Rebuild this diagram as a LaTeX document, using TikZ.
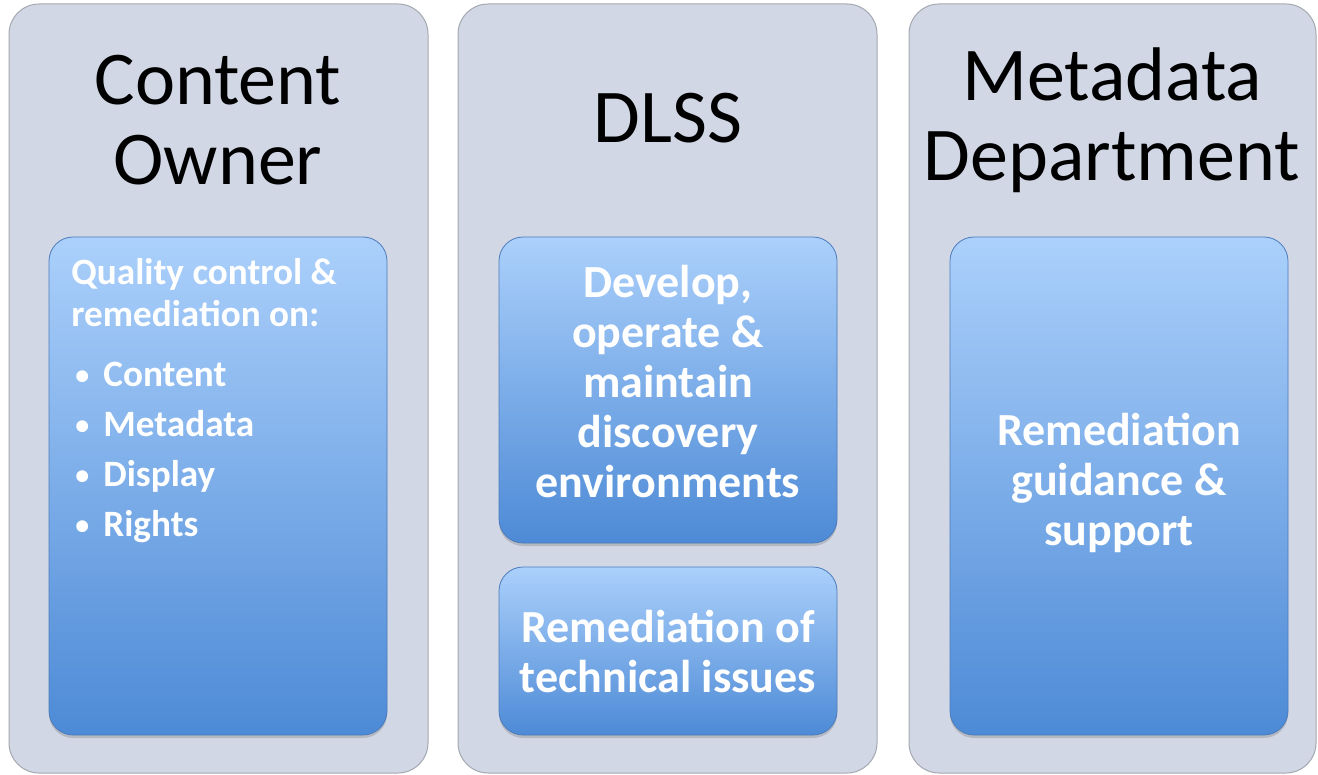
\documentclass[tikz,border=0pt]{standalone}
\usepackage{fontspec}
\setmainfont{Carlito}
\usetikzlibrary{shadows}
\definecolor{panelgrey}{HTML}{D1D7E5}
\definecolor{panelline}{HTML}{A4A8B0}
\definecolor{boxtop}{HTML}{ABD0FB}
\definecolor{boxbottom}{HTML}{4D8AD6}
\definecolor{boxline}{HTML}{4C7CBD}
\tikzset{
  panel/.style={fill=panelgrey, draw=panelline, line width=0.5pt, rounded corners=15pt},
  bluebox/.style={top color=boxtop, bottom color=boxbottom, draw=boxline, line width=0.4pt,
    rounded corners=12pt, drop shadow={shadow xshift=0pt, shadow yshift=-1.5pt, opacity=0.35}},
  titletext/.style={font=\fontsize{38}{40}\selectfont, align=center, text=black},
  boxtext/.style={font=\bfseries\fontsize{23}{25}\selectfont, align=center, text=white},
  listtext/.style={font=\bfseries\fontsize{18.6}{21}\selectfont, align=left, text=white,
    anchor=north west, inner sep=0pt},
}
\newcommand{\listbullet}[1]{\hspace*{2pt}\makebox[14pt][l]{\raisebox{1pt}{\scalebox{0.75}{\textbullet}}}#1}

\begin{document}
\begin{tikzpicture}[x=0.5pt, y=-0.5pt]
\useasboundingbox (0,0) rectangle (1318,775);
% grey panels
\path[panel] (9,4) rectangle (428,773);
\path[panel] (458,4) rectangle (877,773);
\path[panel] (909,4) rectangle (1316,773);
% blue boxes
\path[bluebox] (49,237) rectangle (387,735);
\path[bluebox] (499,237) rectangle (837,543);
\path[bluebox] (499,567) rectangle (837,735);
\path[bluebox] (950,237) rectangle (1288,735);
% titles
\node[titletext] (owner) at (218,120) {Content\\Owner};
\node[titletext, anchor=base] (dlss) at (668,143) {DLSS};
\node[titletext] (metadept) at (1112,120) {Metadata\\Department};
% box texts
\node[listtext] (qclist) at (71,258) {Quality control \&\\remediation on:\\[9pt]
  \listbullet{Content}\\[4pt]
  \listbullet{Metadata}\\[4pt]
  \listbullet{Display}\\[4pt]
  \listbullet{Rights}};
\node[boxtext] (develop) at (668,382) {Develop,\\operate \&\\maintain\\discovery\\environments};
\node[boxtext] (technical) at (668,651) {Remediation of\\technical issues};
\node[boxtext] (guidance) at (1119,483) {Remediation\\guidance \&\\support};
\end{tikzpicture}
\end{document}
